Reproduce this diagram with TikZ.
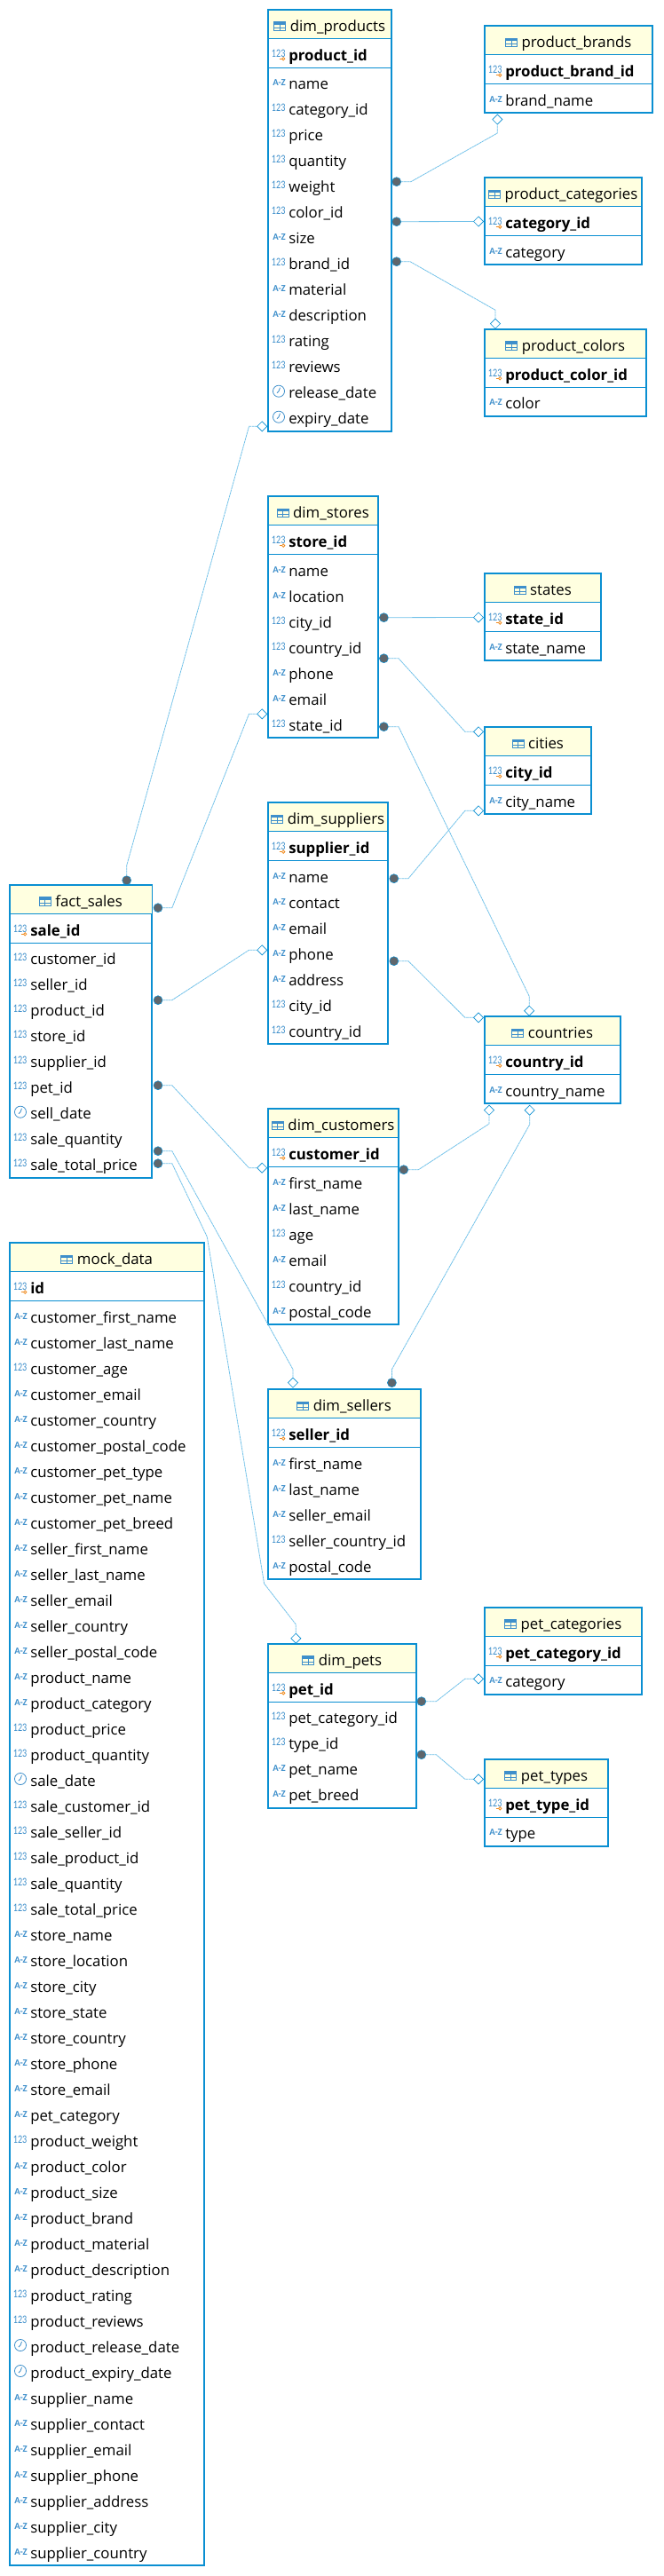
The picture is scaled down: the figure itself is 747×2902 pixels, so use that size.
\documentclass[tikz,border=0pt]{standalone}
\usepackage{fontspec}
\setmainfont{Open Sans}
\newfontfamily\tagfont{Carlito}
\usepackage{graphicx}
\usepackage{xcolor}
\usepackage{tikz}
\usetikzlibrary{positioning,shapes.geometric,arrows.meta}
\definecolor{tableblue}{HTML}{0A8FD2}
\definecolor{iconblue}{HTML}{3E8FCB}
\definecolor{headyellow}{HTML}{FFFFE0}
\definecolor{linkblue}{HTML}{6FC0E8}
\definecolor{dotgray}{HTML}{5F666C}
\definecolor{keyorange}{HTML}{F08A1D}
\catcode`\_=12
\tikzset{
  tableframe/.style={rectangle, draw=tableblue, fill=white, line width=1.5pt, anchor=north west, outer sep=0pt, inner sep=0pt},
  titlebar/.style={rectangle, fill=headyellow, anchor=north, outer sep=0pt, inner sep=0pt, minimum height=23.25pt},
  titletext/.style={anchor=base, inner sep=0pt, font=\fontsize{12.6}{15}\selectfont},
  coltext/.style={anchor=base west, inner sep=0pt, font=\fontsize{12.6}{15}\selectfont},
  pktext/.style={coltext, font=\fontsize{12.6}{15}\selectfont\bfseries},
  numtag/.style={anchor=base west, inner sep=0pt, text=iconblue, font=\tagfont\fontsize{9.75}{10}\selectfont},
  txttag/.style={anchor=base west, inner sep=0pt, text=iconblue, font=\tagfont\bfseries\fontsize{8}{9}\selectfont},
  rowline/.style={draw=tableblue, line width=0.75pt},
  fkdot/.style={circle, draw=tableblue, fill=dotgray, line width=0.4pt, minimum size=7.5pt, inner sep=0pt},
  fkend/.style={diamond, draw=tableblue, fill=white, line width=0.5pt, minimum size=8.5pt, inner sep=0pt},
  fklink/.style={draw=linkblue, line width=0.6pt},
  fkroute/.style={fklink, dash pattern=on 2pt off 0.4pt},
  tblicon/.pic={
    \fill[iconblue] (0,-10.7) rectangle (14,-7.5);
    \draw[iconblue, line width=0.75pt] (0.5,-10.2) rectangle (13.5,-0.5);
    \draw[iconblue, line width=0.75pt] (0.5,-4) -- (13.5,-4) (7,-7.5) -- (7,-0.5);
  },
  keymark/.pic={
    \draw[keyorange, line width=0.6pt] (-10.5,-1.7) -- (-7.5,-1.7);
    \draw[keyorange, line width=0.6pt] (-5.8,-1.7) circle [radius=1.25pt];
  },
  clockmark/.pic={
    \draw[iconblue, line width=0.6pt] (0,0) circle [radius=4.9pt];
    \draw[iconblue, line width=0.6pt] (1.5,-4) -- (0,0) -- (-2,2);
  }
}
\newcommand{\kindN}[1]{\node[numtag] (#1-t) at ([shift={(-19.3,-4)}]#1.base west) {\scalebox{0.78}[1]{123}};}
\newcommand{\kindS}[1]{\node[txttag] (#1-t) at ([shift={(-18,-4)}]#1.base west) {A-Z};}
\newcommand{\kindD}[1]{\pic at ([shift={(-11,-8)}]#1.base west) {clockmark};}
% id, x, y, width, rows, title, primary key, columns
\newcommand{\dbtable}[8]{
  \node[tableframe, minimum width=#4*0.75pt, minimum height=(69+29*#5)*0.75pt] (#1) at (#2,#3) {};
  \node[titlebar, minimum width=(#4-1.5)*0.75pt] (#1-head) at ([shift={(0,1)}]#1.north) {};
  \node[titletext] (#1-title) at ([shift={(9,24)}]#1.north) {#6};
  \pic at (#1-title.base west) [shift={(-18.3,0)}] {tblicon};
  \draw[rowline] ([shift={(0,32.5)}]#1.north west) -- ([shift={(0,32.5)}]#1.north east);
  \draw[rowline] ([shift={(0,65.5)}]#1.north west) -- ([shift={(0,65.5)}]#1.north east);
  \node[pktext] (#1-pk) at ([shift={(23,57)}]#1.north west) {#7};
  \kindN{#1-pk}
  \pic at (#1-pk.base west) {keymark};
  \foreach \kind/\colname [count=\n from 0] in {#8} {
    \node[coltext] (#1-f\n) at ([shift={(23,89.7+29*\n)}]#1.north west) {\colname};
    \csname kind\kind\endcsname{#1-f\n}
  }
}

\begin{document}
\begin{tikzpicture}[x=0.75pt, y=-0.75pt]
  \useasboundingbox (0,0) rectangle (747,2902);

  % Tables
  \dbtable{products}{302}{11}{139}{14}{dim_products}{product_id}{S/name,N/category_id,N/price,N/quantity,N/weight,N/color_id,S/size,N/brand_id,S/material,S/description,N/rating,N/reviews,D/release_date,D/expiry_date}
  \dbtable{brands}{546}{29.3}{189}{1}{product_brands}{product_brand_id}{S/brand_name}
  \dbtable{categories}{546}{200.3}{177}{1}{product_categories}{category_id}{S/category}
  \dbtable{colors}{546}{371}{182}{1}{product_colors}{product_color_id}{S/color}
  \dbtable{stores}{302}{559.3}{124}{7}{dim_stores}{store_id}{S/name,S/location,N/city_id,N/country_id,S/phone,S/email,N/state_id}
  \dbtable{states}{546}{646.3}{131}{1}{states}{state_id}{S/state_name}
  \dbtable{cities}{546}{819.3}{120}{1}{cities}{city_id}{S/city_name}
  \dbtable{suppliers}{302}{904.3}{135}{7}{dim_suppliers}{supplier_id}{S/name,S/contact,S/email,S/phone,S/address,N/city_id,N/country_id}
  \dbtable{sales}{11}{997}{160.3}{9}{fact_sales}{sale_id}{N/customer_id,N/seller_id,N/product_id,N/store_id,N/supplier_id,N/pet_id,D/sell_date,N/sale_quantity,N/sale_total_price}
  \dbtable{countries}{546}{1145.3}{153}{1}{countries}{country_id}{S/country_name}
  \dbtable{customers}{302}{1249.3}{147}{6}{dim_customers}{customer_id}{S/first_name,S/last_name,N/age,S/email,N/country_id,S/postal_code}
  \dbtable{mock}{11}{1400.3}{219}{49}{mock_data}{id}{S/customer_first_name,S/customer_last_name,N/customer_age,S/customer_email,S/customer_country,S/customer_postal_code,S/customer_pet_type,S/customer_pet_name,S/customer_pet_breed,S/seller_first_name,S/seller_last_name,S/seller_email,S/seller_country,S/seller_postal_code,S/product_name,S/product_category,N/product_price,N/product_quantity,D/sale_date,N/sale_customer_id,N/sale_seller_id,N/sale_product_id,N/sale_quantity,N/sale_total_price,S/store_name,S/store_location,S/store_city,S/store_state,S/store_country,S/store_phone,S/store_email,S/pet_category,N/product_weight,S/product_color,S/product_size,S/product_brand,S/product_material,S/product_description,N/product_rating,N/product_reviews,D/product_release_date,D/product_expiry_date,S/supplier_name,S/supplier_contact,S/supplier_email,S/supplier_phone,S/supplier_address,S/supplier_city,S/supplier_country}
  \dbtable{sellers}{302}{1565.3}{171.8}{5}{dim_sellers}{seller_id}{S/first_name,S/last_name,S/seller_email,N/seller_country_id,S/postal_code}
  \dbtable{petcats}{546}{1811}{177}{1}{pet_categories}{pet_category_id}{S/category}
  \dbtable{pets}{302}{1852}{167}{4}{dim_pets}{pet_id}{N/pet_category_id,N/type_id,S/pet_name,S/pet_breed}
  \dbtable{pettypes}{546}{1982}{139}{1}{pet_types}{pet_type_id}{S/type}

  % Relationship ends
  \node[fkdot] (brand-dot) at (446.7,204.7) {};
  \node[fkend] (brand-end) at (560.3,134.5) {};
  \node[fkdot] (category-dot) at (446.7,249.7) {};
  \node[fkend] (category-end) at (539,249.5) {};
  \node[fkdot] (color-dot) at (446.7,294.7) {};
  \node[fkend] (color-end) at (558,364.7) {};
  \node[fkdot] (saleproduct-dot) at (142.7,991.7) {};
  \node[fkend] (saleproduct-end) at (295.2,480.3) {};
  \node[fkdot] (salestore-dot) at (178,1022.7) {};
  \node[fkend] (salestore-end) at (295.2,804.3) {};
  \node[fkdot] (state-dot) at (432.4,695.7) {};
  \node[fkend] (state-end) at (539,695.5) {};
  \node[fkdot] (storecity-dot) at (432.4,741.7) {};
  \node[fkend] (storecity-end) at (539,824.3) {};
  \node[fkdot] (storecountry-dot) at (432.4,818.7) {};
  \node[fkend] (storecountry-end) at (596.2,1138.7) {};
  \node[fkdot] (suppliercity-dot) at (443.8,989.7) {};
  \node[fkend] (suppliercity-end) at (539,913.3) {};
  \node[fkdot] (suppliercountry-dot) at (443.8,1082.7) {};
  \node[fkend] (suppliercountry-end) at (539,1146.3) {};
  \node[fkdot] (salesupplier-dot) at (178,1126.7) {};
  \node[fkend] (salesupplier-end) at (295.2,1070.3) {};
  \node[fkdot] (salecustomer-dot) at (178,1222.7) {};
  \node[fkend] (salecustomer-end) at (295.2,1315.7) {};
  \node[fkdot] (saleseller-dot) at (178,1296.7) {};
  \node[fkend] (saleseller-end) at (330,1557.7) {};
  \node[fkdot] (salepet-dot) at (178,1310.7) {};
  \node[fkend] (salepet-end) at (333.3,1845.7) {};
  \node[fkdot] (customercountry-dot) at (454.8,1317.7) {};
  \node[fkend] (customercountry-end) at (551,1250.7) {};
  \node[fkdot] (sellercountry-dot) at (441.4,1557.7) {};
  \node[fkend] (sellercountry-end) at (596.7,1250.7) {};
  \node[fkdot] (petcat-dot) at (474.8,1916.7) {};
  \node[fkend] (petcat-end) at (539,1891.3) {};
  \node[fkdot] (pettype-dot) at (474.8,1976.7) {};
  \node[fkend] (pettype-end) at (539,2004.3) {};

  % Relationships
  \draw[fkroute] (brand-dot) -- (462.9,204.7) -- (560.3,150) -- (brand-end);
  \draw[fklink] (category-dot) -- (category-end);
  \draw[fkroute] (color-dot) -- (462,294.7) -- (558,349.3) -- (color-end);
  \draw[fkroute] (saleproduct-dot) -- (142.7,975) -- (280.5,480.3) -- (saleproduct-end);
  \draw[fkroute] (salestore-dot) -- (193.8,1022.7) -- (280.5,804.3) -- (salestore-end);
  \draw[fklink] (state-dot) -- (state-end);
  \draw[fkroute] (storecity-dot) -- (449,741.7) -- (523.8,824.3) -- (storecity-end);
  \draw[fkroute] (storecountry-dot) -- (449,818.7) -- (596.2,1122.3) -- (storecountry-end);
  \draw[fkroute] (suppliercity-dot) -- (460,989.7) -- (523.8,913.3) -- (suppliercity-end);
  \draw[fkroute] (suppliercountry-dot) -- (460,1082.7) -- (523.8,1146.3) -- (suppliercountry-end);
  \draw[fkroute] (salesupplier-dot) -- (193.8,1126.7) -- (280.5,1070.3) -- (salesupplier-end);
  \draw[fkroute] (salecustomer-dot) -- (193.8,1222.7) -- (280.5,1315.7) -- (salecustomer-end);
  \draw[fkroute] (saleseller-dot) -- (193.8,1296.7) -- (330,1542.7) -- (saleseller-end);
  \draw[fkroute] (salepet-dot) -- (193.8,1310.7) -- (233.3,1393.3) -- (297.6,1784) -- (333.3,1830) -- (salepet-end);
  \draw[fkroute] (customercountry-dot) -- (471.4,1317.7) -- (551,1266) -- (customercountry-end);
  \draw[fkroute] (sellercountry-dot) -- (441.4,1542.7) -- (596.7,1266.7) -- (sellercountry-end);
  \draw[fkroute] (petcat-dot) -- (491.4,1916.7) -- (523.8,1891.3) -- (petcat-end);
  \draw[fkroute] (pettype-dot) -- (491.4,1976.7) -- (523.8,2004.3) -- (pettype-end);
\end{tikzpicture}
\end{document}
